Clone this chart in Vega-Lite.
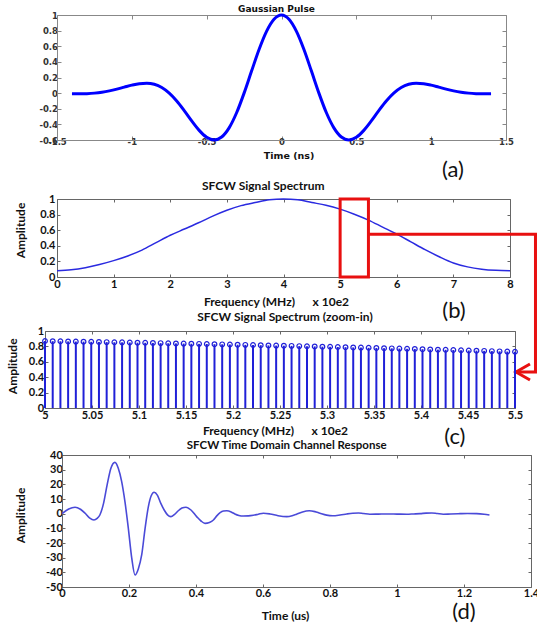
{
  "$schema": "https://vega.github.io/schema/vega-lite/v6.json",
  "background": "white",
  "padding": {"left": 6, "top": 5, "right": 0, "bottom": 0},
  "spacing": 47,
  "bounds": "flush",
  "config": {
    "view": {"stroke": null},
    "axis": {"grid": false, "labelFlush": false, "labelOverlap": false, "labelBound": false, "format": "~g", "labelExpr": "replace(datum.label, '\u2212', '-')"}
  },
  "datasets": {
    "stems": [
      {"f": 5.0, "a": 0.87}, {"f": 5.0082, "a": 0.868}, {"f": 5.0164, "a": 0.867}, {"f": 5.0246, "a": 0.865}, {"f": 5.0328, "a": 0.863}, {"f": 5.041, "a": 0.862}, {"f": 5.0492, "a": 0.86}, {"f": 5.0574, "a": 0.858}, {"f": 5.0656, "a": 0.856}, {"f": 5.0738, "a": 0.854}, {"f": 5.082, "a": 0.853}, {"f": 5.0902, "a": 0.851}, {"f": 5.0984, "a": 0.849}, {"f": 5.1066, "a": 0.847}, {"f": 5.1148, "a": 0.845}, {"f": 5.123, "a": 0.843}, {"f": 5.1311, "a": 0.841}, {"f": 5.1393, "a": 0.839}, {"f": 5.1475, "a": 0.837}, {"f": 5.1557, "a": 0.835}, {"f": 5.1639, "a": 0.833}, {"f": 5.1721, "a": 0.831}, {"f": 5.1803, "a": 0.829}, {"f": 5.1885, "a": 0.827}, {"f": 5.1967, "a": 0.825}, {"f": 5.2049, "a": 0.822}, {"f": 5.2131, "a": 0.82}, {"f": 5.2213, "a": 0.818}, {"f": 5.2295, "a": 0.816}, {"f": 5.2377, "a": 0.813}, {"f": 5.2459, "a": 0.811}, {"f": 5.2541, "a": 0.809}, {"f": 5.2623, "a": 0.807}, {"f": 5.2705, "a": 0.804}, {"f": 5.2787, "a": 0.802}, {"f": 5.2869, "a": 0.8}, {"f": 5.2951, "a": 0.797}, {"f": 5.3033, "a": 0.795}, {"f": 5.3115, "a": 0.792}, {"f": 5.3197, "a": 0.79}, {"f": 5.3279, "a": 0.787}, {"f": 5.3361, "a": 0.785}, {"f": 5.3443, "a": 0.782}, {"f": 5.3525, "a": 0.78}, {"f": 5.3607, "a": 0.777}, {"f": 5.3689, "a": 0.775}, {"f": 5.377, "a": 0.772}, {"f": 5.3852, "a": 0.769}, {"f": 5.3934, "a": 0.767}, {"f": 5.4016, "a": 0.764}, {"f": 5.4098, "a": 0.761}, {"f": 5.418, "a": 0.758}, {"f": 5.4262, "a": 0.756}, {"f": 5.4344, "a": 0.753}, {"f": 5.4426, "a": 0.75}, {"f": 5.4508, "a": 0.747}, {"f": 5.459, "a": 0.745}, {"f": 5.4672, "a": 0.742}, {"f": 5.4754, "a": 0.739}, {"f": 5.4836, "a": 0.736}, {"f": 5.4918, "a": 0.733}, {"f": 5.5, "a": 0.73}
    ]
  },
  "vconcat": [
    {
      "width": 486,
      "height": 137,
      "title": {"text": "Gaussian Pulse", "frame": "group", "anchor": "middle", "dx": -11.5, "offset": -9, "baseline": "middle", "font": "DejaVu Sans", "fontSize": 9, "fontWeight": "bold", "color": "#111"},
      "resolve": {"axis": {"x": "independent", "y": "independent"}},
      "layer": [
        {
          "data": {"values": [
            {"t": -1.4, "v": -0.0092}, {"t": -1.35, "v": -0.0092}, {"t": -1.3, "v": -0.0065}, {"t": -1.25, "v": 0}, {"t": -1.2, "v": 0.0115}, {"t": -1.15, "v": 0.0287}, {"t": -1.1, "v": 0.0511}, {"t": -1.05, "v": 0.0768}, {"t": -1.0, "v": 0.102}, {"t": -0.95, "v": 0.1212}, {"t": -0.9, "v": 0.1273}, {"t": -0.85, "v": 0.1129}, {"t": -0.8, "v": 0.0717}, {"t": -0.75, "v": 0}, {"t": -0.7, "v": -0.101}, {"t": -0.65, "v": -0.224}, {"t": -0.6, "v": -0.3557}, {"t": -0.55, "v": -0.4768}, {"t": -0.5, "v": -0.5651}, {"t": -0.45, "v": -0.599}, {"t": -0.4, "v": -0.5615}, {"t": -0.35, "v": -0.4444}, {"t": -0.3, "v": -0.2516}, {"t": -0.25, "v": 0}, {"t": -0.2, "v": 0.282}, {"t": -0.15, "v": 0.5583}, {"t": -0.1, "v": 0.7907}, {"t": -0.05, "v": 0.9457},
            {"t": 0, "v": 1},
            {"t": 0.05, "v": 0.9457}, {"t": 0.1, "v": 0.7907}, {"t": 0.15, "v": 0.5583}, {"t": 0.2, "v": 0.282}, {"t": 0.25, "v": 0}, {"t": 0.3, "v": -0.2516}, {"t": 0.35, "v": -0.4444}, {"t": 0.4, "v": -0.5615}, {"t": 0.45, "v": -0.599}, {"t": 0.5, "v": -0.5651}, {"t": 0.55, "v": -0.4768}, {"t": 0.6, "v": -0.3557}, {"t": 0.65, "v": -0.224}, {"t": 0.7, "v": -0.101}, {"t": 0.75, "v": 0}, {"t": 0.8, "v": 0.0717}, {"t": 0.85, "v": 0.1129}, {"t": 0.9, "v": 0.1273}, {"t": 0.95, "v": 0.1212}, {"t": 1.0, "v": 0.102}, {"t": 1.05, "v": 0.0768}, {"t": 1.1, "v": 0.0511}, {"t": 1.15, "v": 0.0287}, {"t": 1.2, "v": 0.0115}, {"t": 1.25, "v": 0}, {"t": 1.3, "v": -0.0065}, {"t": 1.35, "v": -0.0092}, {"t": 1.4, "v": -0.0092}
          ]},
          "mark": {"type": "line", "color": "#0000ff", "strokeWidth": 3, "interpolate": "monotone"},
          "encoding": {
            "x": {"field": "t", "type": "quantitative", "scale": {"domain": [-1.5, 1.5], "range": [12, 461], "nice": false, "zero": false},
              "axis": {"orient": "bottom", "offset": -12, "values": [-1.5, -1, -0.5, 0, 0.5, 1, 1.5], "tickSize": -4, "labelPadding": 1, "domainColor": "#888", "tickColor": "#888", "labelFont": "DejaVu Sans", "labelFontSize": 8.5, "labelFontWeight": "bold", "labelColor": "#333",
                "title": "Time (ns)", "titleFont": "DejaVu Sans", "titleFontSize": 9.5, "titleFontWeight": "bold", "titleColor": "#111", "titleX": 243.5, "titleY": 15, "titleAlign": "center", "titleBaseline": "middle"}},
            "y": {"field": "v", "type": "quantitative", "scale": {"domain": [-0.6, 1], "range": [125, 0], "nice": false, "zero": false},
              "axis": {"orient": "left", "offset": -12, "values": [-0.6, -0.4, -0.2, 0, 0.2, 0.4, 0.6, 0.8, 1], "tickSize": -4, "labelPadding": 3.5, "domainColor": "#888", "tickColor": "#888", "labelFont": "DejaVu Sans", "labelFontSize": 8.5, "labelFontWeight": "bold", "labelColor": "#333", "title": null}}
          }
        },
        {
          "data": {"values": [{"t": 0, "v": 0}]},
          "mark": {"type": "point", "opacity": 0},
          "encoding": {
            "x": {"field": "t", "type": "quantitative", "axis": {"orient": "top", "offset": 0, "values": [-1.5, -1, -0.5, 0, 0.5, 1, 1.5], "tickSize": -4, "labels": false, "domainColor": "#888", "tickColor": "#888", "title": null}},
            "y": {"field": "v", "type": "quantitative", "axis": {"orient": "right", "offset": -25, "values": [-0.6, -0.4, -0.2, 0, 0.2, 0.4, 0.6, 0.8, 1], "tickSize": -4, "labels": false, "domainColor": "#888", "tickColor": "#888", "title": null}}
          }
        },
        {
          "data": {"values": [{"t": 1.146, "v": -0.984, "label": "(a)"}]},
          "mark": {"type": "text", "font": "Lato", "fontSize": 22, "color": "#111", "align": "center", "baseline": "middle"},
          "encoding": {
            "x": {"field": "t", "type": "quantitative", "axis": null},
            "y": {"field": "v", "type": "quantitative", "axis": null},
            "text": {"field": "label"}
          }
        }
      ]
    },
    {
      "width": 486,
      "height": 85,
      "title": {"text": "SFCW Signal Spectrum", "frame": "group", "anchor": "middle", "dx": -24.7, "offset": -4.7, "baseline": "middle", "font": "Lato", "fontSize": 12, "fontWeight": "bold", "color": "#111"},
      "resolve": {"axis": {"x": "independent", "y": "independent"}},
      "layer": [
        {
          "data": {"values": [
            {"f": 0, "a": 0.08}, {"f": 0.25, "a": 0.093}, {"f": 0.5, "a": 0.12}, {"f": 0.75, "a": 0.16}, {"f": 1.0, "a": 0.21}, {"f": 1.25, "a": 0.27}, {"f": 1.5, "a": 0.345}, {"f": 1.75, "a": 0.44}, {"f": 2.0, "a": 0.535}, {"f": 2.25, "a": 0.615}, {"f": 2.5, "a": 0.695}, {"f": 2.75, "a": 0.78}, {"f": 3.0, "a": 0.855}, {"f": 3.25, "a": 0.915}, {"f": 3.5, "a": 0.955}, {"f": 3.75, "a": 0.99}, {"f": 4.0, "a": 1.0},
            {"f": 4.25, "a": 0.99}, {"f": 4.5, "a": 0.955}, {"f": 4.75, "a": 0.92}, {"f": 5.0, "a": 0.87}, {"f": 5.25, "a": 0.805}, {"f": 5.5, "a": 0.73}, {"f": 5.75, "a": 0.64}, {"f": 6.0, "a": 0.55}, {"f": 6.25, "a": 0.45}, {"f": 6.5, "a": 0.35}, {"f": 6.75, "a": 0.26}, {"f": 7.0, "a": 0.18}, {"f": 7.25, "a": 0.13}, {"f": 7.5, "a": 0.1}, {"f": 7.75, "a": 0.085}, {"f": 8.0, "a": 0.08}
          ]},
          "mark": {"type": "line", "color": "#2a2ae0", "strokeWidth": 1.5, "interpolate": "monotone"},
          "encoding": {
            "x": {"field": "f", "type": "quantitative", "scale": {"domain": [0, 8], "range": [12, 465], "nice": false, "zero": false},
              "axis": {"orient": "bottom", "offset": -7, "values": [0, 1, 2, 3, 4, 5, 6, 7, 8], "tickSize": -3, "labelPadding": 4, "domainColor": "#666", "tickColor": "#666", "labelFont": "Lato", "labelFontSize": 11, "labelFontWeight": "bold", "labelColor": "#111",
                "title": "Frequency (MHz)\u00a0\u00a0\u00a0\u00a0\u00a0 x 10e2", "titleFont": "Lato", "titleFontSize": 12, "titleFontWeight": "bold", "titleColor": "#111", "titleX": 231, "titleY": 24, "titleAlign": "center", "titleBaseline": "middle"}},
            "y": {"field": "a", "type": "quantitative", "scale": {"domain": [0, 1], "range": [78, 0], "nice": false, "zero": false},
              "axis": {"orient": "left", "offset": -12, "values": [0, 0.2, 0.4, 0.6, 0.8, 1], "tickSize": -3, "labelPadding": 5, "domainColor": "#666", "tickColor": "#666", "labelFont": "Lato", "labelFontSize": 11, "labelFontWeight": "bold", "labelColor": "#111",
                "title": "Amplitude", "titleFont": "Lato", "titleFontSize": 12, "titleFontWeight": "bold", "titleColor": "#111", "titleX": -36.3, "titleY": 31, "titleAlign": "center", "titleBaseline": "middle", "titleAngle": 270}}
          }
        },
        {
          "data": {"values": [{"f": 0, "a": 0}]},
          "mark": {"type": "point", "opacity": 0},
          "encoding": {
            "x": {"field": "f", "type": "quantitative", "axis": {"orient": "top", "offset": 0, "values": [0, 1, 2, 3, 4, 5, 6, 7, 8], "tickSize": -3, "labels": false, "domainColor": "#666", "tickColor": "#666", "title": null}},
            "y": {"field": "a", "type": "quantitative", "axis": {"orient": "right", "offset": -21, "values": [0, 0.2, 0.4, 0.6, 0.8, 1], "tickSize": -3, "labels": false, "domainColor": "#666", "tickColor": "#666", "title": null}}
          }
        },
        {
          "data": {"values": [{"f": 5, "f2": 5.5, "a": 0, "a2": 1}]},
          "mark": {"type": "rect", "filled": false, "stroke": "#e81010", "strokeWidth": 3},
          "encoding": {
            "x": {"field": "f", "type": "quantitative", "axis": null},
            "x2": {"field": "f2"},
            "y": {"field": "a", "type": "quantitative", "axis": null},
            "y2": {"field": "a2"}
          }
        },
        {
          "data": {"values": [
            {"seg": "link", "ord": 0, "f": 5.5, "a": 0.547}, {"seg": "link", "ord": 1, "f": 8.45, "a": 0.547}, {"seg": "link", "ord": 2, "f": 8.45, "a": -1.218}, {"seg": "link", "ord": 3, "f": 8.106, "a": -1.218},
            {"seg": "head", "ord": 0, "f": 8.353, "a": -1.115}, {"seg": "head", "ord": 1, "f": 8.106, "a": -1.218}, {"seg": "head", "ord": 2, "f": 8.353, "a": -1.321}
          ]},
          "mark": {"type": "line", "color": "#e81010", "strokeWidth": 3, "strokeJoin": "miter"},
          "encoding": {
            "x": {"field": "f", "type": "quantitative", "axis": null},
            "y": {"field": "a", "type": "quantitative", "axis": null},
            "detail": {"field": "seg", "type": "nominal"},
            "order": {"field": "ord", "type": "quantitative"}
          }
        },
        {
          "data": {"values": [{"f": 7.011, "a": -0.436, "label": "(b)"}]},
          "mark": {"type": "text", "font": "Lato", "fontSize": 22, "color": "#111", "align": "center", "baseline": "middle"},
          "encoding": {
            "x": {"field": "f", "type": "quantitative", "axis": null},
            "y": {"field": "a", "type": "quantitative", "axis": null},
            "text": {"field": "label"}
          }
        }
      ]
    },
    {
      "width": 486,
      "height": 77,
      "title": {"text": "SFCW Signal Spectrum (zoom-in)", "frame": "group", "anchor": "middle", "dx": -3, "offset": -4.3, "baseline": "middle", "font": "Lato", "fontSize": 12, "fontWeight": "bold", "color": "#111"},
      "resolve": {"axis": {"x": "independent", "y": "independent"}},
      "layer": [
        {
          "data": {"name": "stems"},
          "mark": {"type": "rule", "color": "#2020d8", "strokeWidth": 2},
          "encoding": {
            "x": {"field": "f", "type": "quantitative", "scale": {"domain": [5, 5.5], "range": [0, 470], "nice": false, "zero": false},
              "axis": {"orient": "bottom", "offset": 0, "values": [5, 5.05, 5.1, 5.15, 5.2, 5.25, 5.3, 5.35, 5.4, 5.45, 5.5], "tickSize": -3, "labelPadding": 4, "domainColor": "#666", "tickColor": "#666", "labelFont": "Lato", "labelFontSize": 11, "labelFontWeight": "bold", "labelColor": "#111",
                "title": "Frequency (MHz)\u00a0\u00a0\u00a0\u00a0\u00a0 x 10e2", "titleFont": "Lato", "titleFontSize": 12, "titleFontWeight": "bold", "titleColor": "#111", "titleX": 230, "titleY": 22.8, "titleAlign": "center", "titleBaseline": "middle"}},
            "y": {"field": "a", "type": "quantitative", "scale": {"domain": [0, 1], "range": [77, 0], "nice": false, "zero": false},
              "axis": {"orient": "left", "offset": 0, "values": [0, 0.2, 0.4, 0.6, 0.8, 1], "tickSize": -3, "labelPadding": 4.3, "domainColor": "#666", "tickColor": "#666", "labelFont": "Lato", "labelFontSize": 11, "labelFontWeight": "bold", "labelColor": "#111",
                "title": "Amplitude", "titleFont": "Lato", "titleFontSize": 12, "titleFontWeight": "bold", "titleColor": "#111", "titleX": -32.3, "titleY": 34.8, "titleAlign": "center", "titleBaseline": "middle", "titleAngle": 270}},
            "y2": {"datum": 0}
          }
        },
        {
          "data": {"name": "stems"},
          "mark": {"type": "point", "shape": "circle", "filled": false, "color": "#2020d8", "size": 22, "strokeWidth": 1.2, "opacity": 1},
          "encoding": {
            "x": {"field": "f", "type": "quantitative", "axis": {"orient": "top", "offset": 0, "values": [5, 5.05, 5.1, 5.15, 5.2, 5.25, 5.3, 5.35, 5.4, 5.45, 5.5], "tickSize": -3, "labels": false, "domainColor": "#666", "tickColor": "#666", "title": null}},
            "y": {"field": "a", "type": "quantitative", "axis": {"orient": "right", "offset": -16, "values": [0, 0.2, 0.4, 0.6, 0.8, 1], "tickSize": -3, "labels": false, "domainColor": "#666", "tickColor": "#666", "title": null}}
          }
        },
        {
          "data": {"values": [{"f": 5.436, "a": -0.377, "label": "(c)"}]},
          "mark": {"type": "text", "font": "Lato", "fontSize": 22, "color": "#111", "align": "center", "baseline": "middle"},
          "encoding": {
            "x": {"field": "f", "type": "quantitative", "axis": null},
            "y": {"field": "a", "type": "quantitative", "axis": null},
            "text": {"field": "label"}
          }
        }
      ]
    },
    {
      "width": 486,
      "height": 132,
      "title": {"text": "SFCW Time Domain Channel Response", "frame": "group", "anchor": "middle", "dx": -1.3, "offset": -8.3, "baseline": "middle", "font": "Lato", "fontSize": 11.5, "fontWeight": "bold", "color": "#111"},
      "resolve": {"axis": {"x": "independent", "y": "independent"}},
      "layer": [
        {
          "data": {"values": [
            {"t": 0, "v": 0}, {"t": 0.02, "v": 3.2}, {"t": 0.039, "v": 4.4}, {"t": 0.055, "v": 3}, {"t": 0.069, "v": 0.3}, {"t": 0.082, "v": -2.8}, {"t": 0.0955, "v": -4.3}, {"t": 0.105, "v": -3.2}, {"t": 0.113, "v": -0.9}, {"t": 0.124, "v": 7}, {"t": 0.135, "v": 20}, {"t": 0.146, "v": 31}, {"t": 0.158, "v": 35}, {"t": 0.168, "v": 31}, {"t": 0.178, "v": 22}, {"t": 0.188, "v": 8}, {"t": 0.198, "v": -10}, {"t": 0.208, "v": -30}, {"t": 0.218, "v": -41.8}, {"t": 0.228, "v": -37.5}, {"t": 0.238, "v": -28}, {"t": 0.248, "v": -10}, {"t": 0.258, "v": 5}, {"t": 0.266, "v": 12}, {"t": 0.275, "v": 14.6}, {"t": 0.285, "v": 12.5}, {"t": 0.295, "v": 7}, {"t": 0.305, "v": 2.5}, {"t": 0.315, "v": -0.8}, {"t": 0.325, "v": -2.0}, {"t": 0.336, "v": -0.5}, {"t": 0.347, "v": 2}, {"t": 0.358, "v": 3.8}, {"t": 0.37, "v": 4.4}, {"t": 0.385, "v": 2.5}, {"t": 0.402, "v": -2}, {"t": 0.415, "v": -5}, {"t": 0.427, "v": -6.6}, {"t": 0.44, "v": -6}, {"t": 0.452, "v": -4.3}, {"t": 0.462, "v": -1.5}, {"t": 0.472, "v": 0.7}, {"t": 0.482, "v": 1.8}, {"t": 0.492, "v": 2.0}, {"t": 0.505, "v": 1.2}, {"t": 0.516, "v": -0.2}, {"t": 0.528, "v": -1.2}, {"t": 0.541, "v": -1.6}, {"t": 0.556, "v": -1.5}, {"t": 0.571, "v": -1.1}, {"t": 0.586, "v": -0.4}, {"t": 0.601, "v": 0.3}, {"t": 0.621, "v": -0.2}, {"t": 0.645, "v": -1.4}, {"t": 0.671, "v": -2.0}, {"t": 0.687, "v": -1.4}, {"t": 0.7, "v": -0.4}, {"t": 0.718, "v": 1.2}, {"t": 0.738, "v": 2.0}, {"t": 0.755, "v": 1.4}, {"t": 0.77, "v": 0.3}, {"t": 0.79, "v": -1.0}, {"t": 0.808, "v": -1.4}, {"t": 0.83, "v": -0.9}, {"t": 0.85, "v": -0.2}, {"t": 0.868, "v": 0.3}, {"t": 0.885, "v": 0.5}, {"t": 0.9, "v": 0.1}, {"t": 0.919, "v": -0.4}, {"t": 0.945, "v": -0.3}, {"t": 0.969, "v": -0.2}, {"t": 1.0, "v": -0.3}, {"t": 1.029, "v": -0.4}, {"t": 1.05, "v": -0.2}, {"t": 1.069, "v": 0}, {"t": 1.087, "v": 0.4}, {"t": 1.104, "v": 0.5}, {"t": 1.12, "v": 0.1}, {"t": 1.138, "v": -0.4}, {"t": 1.16, "v": -0.2}, {"t": 1.188, "v": 0}, {"t": 1.21, "v": 0.1}, {"t": 1.238, "v": 0}, {"t": 1.26, "v": -0.4}, {"t": 1.276, "v": -0.9}
          ]},
          "mark": {"type": "line", "color": "#4a4ad8", "strokeWidth": 1.6, "interpolate": "monotone"},
          "encoding": {
            "x": {"field": "t", "type": "quantitative", "scale": {"domain": [0, 1.4], "range": [17, 486], "nice": false, "zero": false},
              "axis": {"orient": "bottom", "offset": 0, "values": [0, 0.2, 0.4, 0.6, 0.8, 1, 1.2, 1.4], "tickSize": -3, "labelPadding": 3, "domainColor": "#666", "tickColor": "#666", "labelFont": "Lato", "labelFontSize": 11, "labelFontWeight": "bold", "labelColor": "#111",
                "title": "Time (us)", "titleFont": "Lato", "titleFontSize": 12, "titleFontWeight": "bold", "titleColor": "#111", "titleX": 240, "titleY": 28, "titleAlign": "center", "titleBaseline": "middle"}},
            "y": {"field": "v", "type": "quantitative", "scale": {"domain": [-50, 40], "range": [132, 0], "nice": false, "zero": false},
              "axis": {"orient": "left", "offset": -17, "format": "d", "values": [-50, -40, -30, -20, -10, 0, 10, 20, 30, 40], "tickSize": -3, "labelPadding": 2.7, "domainColor": "#666", "tickColor": "#666", "labelFont": "Lato", "labelFontSize": 11, "labelFontWeight": "bold", "labelColor": "#111",
                "title": "Amplitude", "titleFont": "Lato", "titleFontSize": 12, "titleFontWeight": "bold", "titleColor": "#111", "titleX": -41.3, "titleY": 60, "titleAlign": "center", "titleBaseline": "middle", "titleAngle": 270}}
          }
        },
        {
          "data": {"values": [{"t": 0, "v": 0}]},
          "mark": {"type": "point", "opacity": 0},
          "encoding": {
            "x": {"field": "t", "type": "quantitative", "axis": {"orient": "top", "offset": 0, "values": [0, 0.2, 0.4, 0.6, 0.8, 1, 1.2, 1.4], "tickSize": -3, "labels": false, "domainColor": "#666", "tickColor": "#666", "title": null}},
            "y": {"field": "v", "type": "quantitative", "axis": {"orient": "right", "offset": 0, "values": [-50, -40, -30, -20, -10, 0, 10, 20, 30, 40], "tickSize": -3, "labels": false, "domainColor": "#666", "tickColor": "#666", "title": null}}
          }
        },
        {
          "data": {"values": [{"t": 1.2, "v": -67, "label": "(d)"}]},
          "mark": {"type": "text", "font": "Lato", "fontSize": 22, "color": "#111", "align": "center", "baseline": "middle"},
          "encoding": {
            "x": {"field": "t", "type": "quantitative", "axis": null},
            "y": {"field": "v", "type": "quantitative", "axis": null},
            "text": {"field": "label"}
          }
        }
      ]
    }
  ]
}
